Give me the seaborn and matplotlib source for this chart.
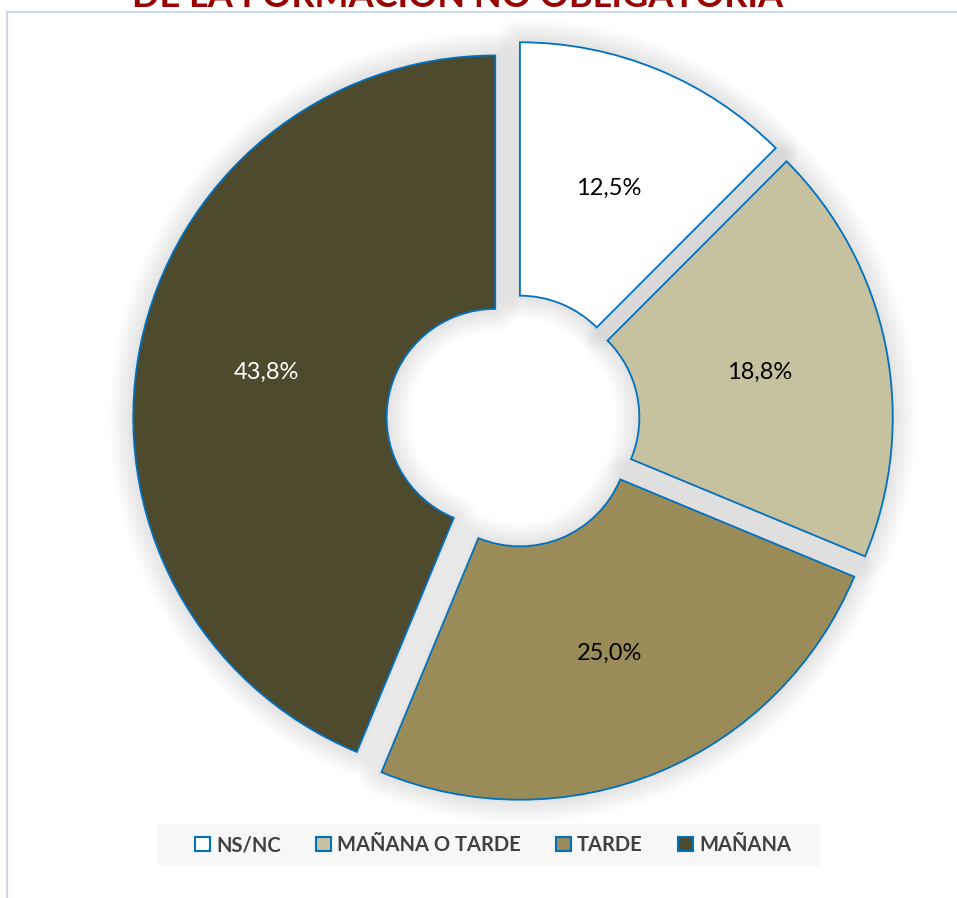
import matplotlib
matplotlib.use('Agg')
import matplotlib.pyplot as plt
import matplotlib.patches as mpatches
import seaborn as sns

# datos
categorias = ['NS/NC', 'MAÑANA O TARDE', 'TARDE', 'MAÑANA']
porcentajes = [12.5, 18.8, 25.0, 43.8]
colores = ['#FFFFFF', '#C6C19F', '#9A8C58', '#4E4A2E']
titulo = 'DE LA FORMACIÓN NO OBLIGATORIA'

sns.set_theme(style='white')
plt.rcParams['font.family'] = ['Lato', 'DejaVu Sans']

W, H = 957, 898
fig = plt.figure(figsize=(W / 100, H / 100), dpi=100)
fig.patch.set_facecolor('white')

# borde del area de grafico
fig.patches.append(mpatches.Rectangle((7.5 / W, -0.1), 1.2, 1 - 12.5 / H + 0.1,
                                      transform=fig.transFigure, fill=False,
                                      edgecolor='#C9DAF0', linewidth=1.5))
# fondo de la leyenda
fig.patches.append(mpatches.Rectangle((158 / W, 1 - 866 / H), 662 / W, 42 / H,
                                      transform=fig.transFigure,
                                      facecolor='#F7F7F7', edgecolor='none'))

ax = fig.add_axes([0, 0, 1, 1])
ax.patch.set_alpha(0)
wedges, textos, autotextos = ax.pie(
    porcentajes, colors=colores, startangle=90, counterclock=False,
    explode=[0.05] * 4, radius=1,
    wedgeprops=dict(width=0.70, edgecolor='#0070C0', linewidth=1.3),
    autopct=lambda p: f'{p:.1f}%'.replace('.', ','),
    pctdistance=0.645, textprops=dict(fontsize=17, color='black'))
autotextos[3].set_color('white')

# sombra suave
for w in wedges:
    w.set_zorder(3)
    for i in range(14):
        lw = 3 + i * 2.4
        s = mpatches.Wedge(w.center, w.r, w.theta1, w.theta2, width=w.width,
                           facecolor='none', edgecolor='black', linewidth=lw,
                           alpha=0.0065, zorder=1, joinstyle='round')
        ax.add_patch(s)
for t in autotextos:
    t.set_zorder(5)

ax.set_aspect('auto')
ax.set_xlim(-513 / 362, (W - 513) / 362)
ax.set_ylim(-(H - 421) / 362, 421 / 362)
ax.axis('off')

fig.text(458 / W, 1 - 7 / H, titulo, ha='center', va='baseline',
         color='#990000', fontweight='bold', fontsize=26)

handles = [mpatches.Patch(facecolor=c, edgecolor='#0070C0', linewidth=1.5, label=l)
           for c, l in zip(colores, categorias)]
leg = fig.legend(handles=handles, loc='center', ncol=4,
                 bbox_to_anchor=(493 / W, 1 - 845 / H), frameon=False,
                 handlelength=0.75, handleheight=0.75, handletextpad=0.3,
                 columnspacing=1.75, borderpad=0.75,
                 prop=dict(size=14.5, weight='bold'))
for t in leg.get_texts():
    t.set_color('#404040')

fig.savefig('out.png', dpi=100)
